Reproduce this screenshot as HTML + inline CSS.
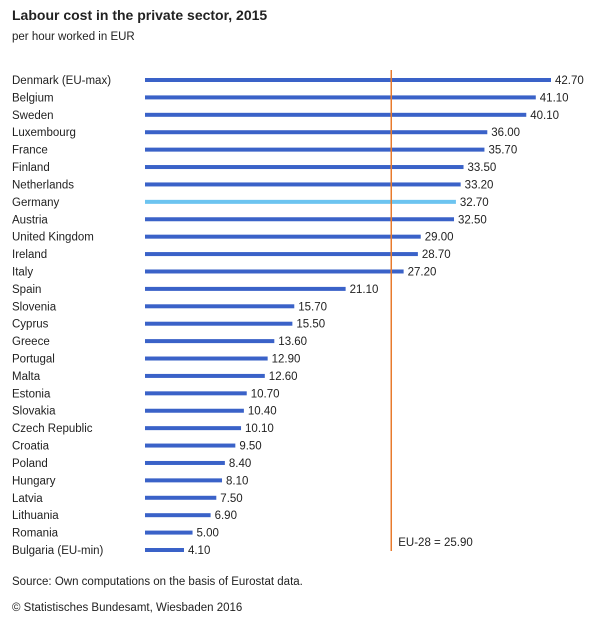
<!DOCTYPE html>
<html><head><meta charset="utf-8"><style>
body{margin:0;background:#fff;font-family:"Liberation Sans",Arial,sans-serif;}
svg text{font-family:"Liberation Sans",Arial,sans-serif;}
</style></head><body>
<svg id="chart" width="600" height="625" xmlns="http://www.w3.org/2000/svg">
<text x="12" y="20" font-size="14" font-weight="bold" fill="#222">Labour cost in the private sector, 2015</text>
<text x="12" y="40" font-size="11.5" fill="#222">per hour worked in EUR</text>
<text x="12" y="585" font-size="11.5" fill="#222">Source: Own computations on the basis of Eurostat data.</text>
<text x="12" y="611" font-size="11.5" fill="#222">© Statistisches Bundesamt, Wiesbaden 2016</text>
<g id="bars"></g>
</svg>
<script>
const categories=["Denmark (EU-max)","Belgium","Sweden","Luxembourg","France","Finland","Netherlands","Germany","Austria","United Kingdom","Ireland","Italy","Spain","Slovenia","Cyprus","Greece","Portugal","Malta","Estonia","Slovakia","Czech Republic","Croatia","Poland","Hungary","Latvia","Lithuania","Romania","Bulgaria (EU-min)"];
const values=[42.7,41.1,40.1,36.0,35.7,33.5,33.2,32.7,32.5,29.0,28.7,27.2,21.1,15.7,15.5,13.6,12.9,12.6,10.7,10.4,10.1,9.5,8.4,8.1,7.5,6.9,5.0,4.1];
const euAverage=25.9;
const highlight="Germany";
const NS="http://www.w3.org/2000/svg";
const g=document.getElementById('bars');
const x0=145,scale=(551-145)/42.7,y0=80,step=(550-80)/27;
const xs=v=>x0+v*scale, ys=i=>y0+i*step;
function mk(t,a){const e=document.createElementNS(NS,t);for(const k in a)e.setAttribute(k,a[k]);g.appendChild(e);return e;}
categories.forEach((c,i)=>{
  const y=ys(i);
  const l=mk('text',{x:12,y:y+4,'font-size':11.5,fill:'#222'});l.textContent=c;
  
  
  const b=mk('rect',{x:x0,y:y-2,width:xs(values[i])-x0,height:4,fill:c===highlight?'#6cc4f0':'#3a62c8'});
  
  
  const v=mk('text',{x:xs(values[i])+4,y:y+4,'font-size':11.5,fill:'#222'});v.textContent=values[i].toFixed(2);
  
  
});
const ex=xs(euAverage);
const ln=mk('line',{x1:ex,x2:ex,y1:70,y2:551,stroke:'#e87a2c','stroke-width':1.5});


const et=mk('text',{x:ex+7,y:546,'font-size':11.5,fill:'#222'});et.textContent='EU-28 = '+euAverage.toFixed(2);


</script>
</body></html>
